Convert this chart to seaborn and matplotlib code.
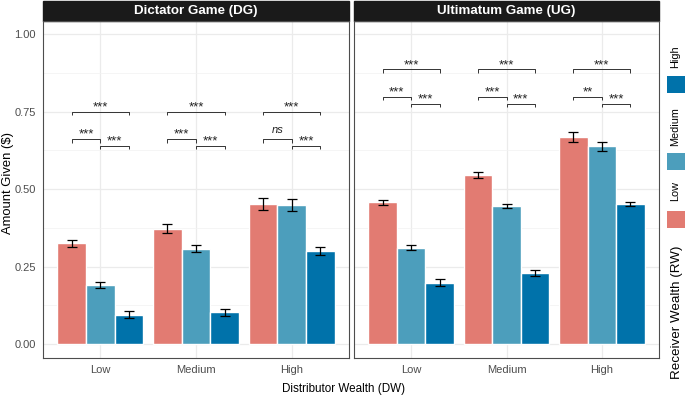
import matplotlib
matplotlib.use('Agg')
import matplotlib.pyplot as plt
import seaborn as sns
import pandas as pd
from matplotlib.patches import Rectangle

# data
games = ['Dictator Game (DG)', 'Ultimatum Game (UG)']
dw_levels = ['Low', 'Medium', 'High']
rw_levels = ['Low', 'Medium', 'High']

# mean amount given; rows = distributor wealth, cols = receiver wealth
dg_means = [[0.325, 0.190, 0.095],
            [0.372, 0.307, 0.102],
            [0.452, 0.448, 0.301]]
dg_errs = [[0.012, 0.010, 0.010],
           [0.015, 0.011, 0.010],
           [0.020, 0.020, 0.013]]
ug_means = [[0.457, 0.310, 0.198],
            [0.545, 0.446, 0.228],
            [0.668, 0.638, 0.452]]
ug_errs = [[0.007, 0.008, 0.012],
           [0.011, 0.007, 0.010],
           [0.015, 0.015, 0.007]]

# significance brackets: (low-high, low-medium, medium-high)
dg_sig_y = [0.750, 0.662, 0.640]
ug_sig_y = [0.886, 0.798, 0.775]
dg_sig_labels = [['***', '***', '***'], ['***', '***', '***'], ['***', 'ns', '***']]
ug_sig_labels = [['***', '***', '***'], ['***', '***', '***'], ['***', '**', '***']]

palette = {'Low': '#E27B72', 'Medium': '#4C9EBC', 'High': '#0072AA'}

rows = []
for game, means, errs in [(games[0], dg_means, dg_errs), (games[1], ug_means, ug_errs)]:
    for i, dw in enumerate(dw_levels):
        for j, rw in enumerate(rw_levels):
            rows.append({'game': game, 'DW': dw, 'RW': rw,
                         'amount': means[i][j], 'se': errs[i][j]})
df = pd.DataFrame(rows)

sns.set_style('white')
plt.rcParams['font.family'] = ['Liberation Sans', 'DejaVu Sans']

fig = plt.figure(figsize=(6.85, 3.96), dpi=100)
W, H = 685, 396
ax1 = fig.add_axes([43 / W, 38 / H, 306 / W, 337 / H])
ax2 = fig.add_axes([354 / W, 38 / H, 305 / W, 337 / H])

def bracket(ax, x1, x2, y, label):
    ax.plot([x1, x1, x2, x2], [y - 0.012, y, y, y - 0.012],
            color='#333333', lw=0.7, solid_capstyle='butt')
    if label == 'ns':
        ax.text((x1 + x2) / 2, y + 0.028, label, ha='center', va='center',
                fontsize=8, style='italic', color='#222222')
    else:
        ax.text((x1 + x2) / 2, y + 0.013, label, ha='center', va='center',
                fontsize=9.5, color='#222222')

for ax, game, sig_y, sig_labels in [(ax1, games[0], dg_sig_y, dg_sig_labels),
                                    (ax2, games[1], ug_sig_y, ug_sig_labels)]:
    sub = df[df['game'] == game]
    sns.barplot(data=sub, x='DW', y='amount', hue='RW', order=dw_levels,
                hue_order=rw_levels, palette=palette, errorbar=None,
                width=0.9, saturation=1, legend=False, ax=ax, zorder=2)
    # bar centres from the drawn patches (hue-major order)
    centres = {}
    for k, p in enumerate(ax.patches[:9]):
        h, c = divmod(k, 3)
        centres[(dw_levels[c], rw_levels[h])] = p.get_x() + p.get_width() / 2
    xs = [centres[(r.DW, r.RW)] for r in sub.itertuples()]
    ax.errorbar(xs, sub['amount'], yerr=sub['se'], fmt='none', ecolor='black',
                elinewidth=0.9, capsize=3.5, capthick=0.9, zorder=3)
    for c, dw in enumerate(dw_levels):
        xl, xm, xh = (centres[(dw, rw)] for rw in rw_levels)
        labels = sig_labels[c]
        bracket(ax, xl, xh, sig_y[0], labels[0])
        bracket(ax, xl, xm, sig_y[1], labels[1])
        bracket(ax, xm, xh, sig_y[2], labels[2])

    ax.set_xlim(-0.6, 2.6)
    ax.set_ylim(-0.045, 1.042)
    ax.set_yticks([0, 0.25, 0.5, 0.75, 1.0])
    ax.set_yticks([0.125, 0.375, 0.625, 0.875], minor=True)
    ax.grid(True, which='major', color='#EBEBEB', lw=0.9, zorder=0)
    ax.grid(True, which='minor', axis='y', color='#F2F2F2', lw=0.5, zorder=0)
    ax.set_axisbelow(True)
    ax.set_xlabel('')
    ax.set_ylabel('')
    for s in ax.spines.values():
        s.set_color('#4D4D4D')
        s.set_linewidth(0.8)
    ax.tick_params(axis='both', which='major', length=3, width=0.7, color='#4D4D4D',
                   labelsize=8, labelcolor='#4D4D4D', pad=2)
    ax.tick_params(axis='y', which='minor', length=0)
    # facet strip
    ax.add_patch(Rectangle((0, 1), 1, 20 / 337, transform=ax.transAxes,
                           facecolor='#1A1A1A', edgecolor='#1A1A1A', clip_on=False))
    ax.text(0.5, 1 + 10 / 337, game, transform=ax.transAxes, ha='center',
            va='center', color='white', fontsize=9.6, fontweight='bold')

ax1.set_yticklabels(['0.00', '0.25', '0.50', '0.75', '1.00'])
ax2.tick_params(axis='y', length=0, labelleft=False)

fig.text(8 / W, 1 - 183 / H, 'Amount Given ($)', rotation=90, ha='center',
         va='center', fontsize=9.4, color='black')
fig.text(344 / W, 1 - 389 / H, 'Distributor Wealth (DW)', ha='center',
         va='center', fontsize=8.4, color='black')

# legend drawn vertically on the right
fig.text(677 / W, 1 - 312 / H, 'Receiver Wealth (RW)', rotation=90, ha='center',
         va='center', fontsize=9.6, color='black')
key_tops = {'Low': 211, 'Medium': 153, 'High': 76}
label_centres = {'Low': 191, 'Medium': 127, 'High': 57}
for rw in rw_levels:
    fig.add_artist(Rectangle((667 / W, 1 - (key_tops[rw] + 17) / H), 18 / W, 17 / H,
                             transform=fig.transFigure, facecolor=palette[rw],
                             edgecolor='none'))
    fig.text(675 / W, 1 - label_centres[rw] / H, rw, rotation=90, ha='center',
             va='center', fontsize=7.8, color='black')

fig.savefig('out.png', dpi=100)
